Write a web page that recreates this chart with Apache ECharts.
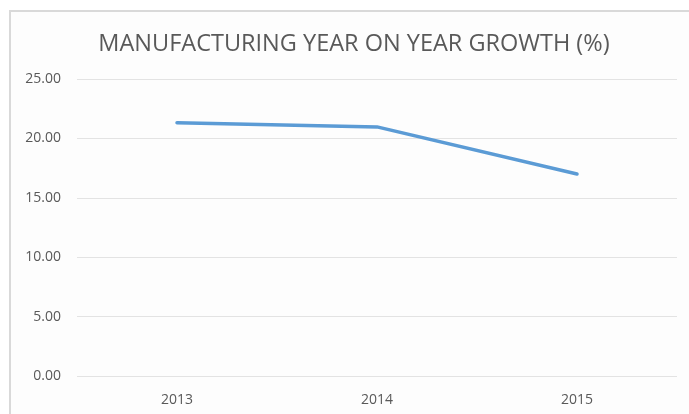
<!DOCTYPE html>
<html>
<head>
<meta charset="utf-8">
<script src="https://cdn.jsdelivr.net/npm/echarts@6/dist/echarts.min.js"></script>
<style>
  html, body { margin: 0; padding: 0; background: #ffffff; }
  #frame { position: absolute; left: 9px; top: 10px; width: 700px; height: 420px;
           border-left: 2px solid #d9d9d9; border-top: 2px solid #d9d9d9; background: #fdfdfd; }
  #lineChart { position: absolute; left: 0; top: 0; width: 689px; height: 414px; }
</style>
</head>
<body>
<div id="frame"></div>
<div id="lineChart"></div>
<script>
// chart data
const years = ['2013', '2014', '2015']
const growth = [21.31, 20.97, 17.0]
const yTicks = { min: 0, max: 25, interval: 5 }

const lineChart = echarts.init(document.getElementById('lineChart'))
lineChart.setOption({
  backgroundColor: 'transparent',
  title: {
    text: 'MANUFACTURING YEAR ON YEAR GROWTH (%)',
    left: 349,
    textAlign: 'center',
    top: 27,
    textStyle: { color: '#595959', fontSize: 23.5, fontWeight: 'normal', fontFamily: 'Open Sans' }
  },
  grid: { top: 79, left: 77, right: 12, bottom: 38 },
  xAxis: {
    type: 'category',
    data: years,
    boundaryGap: true,
    axisLine: { show: false },
    axisTick: { show: false },
    axisLabel: { color: '#595959', fontSize: 14, margin: 17, fontFamily: 'Open Sans' }
  },
  yAxis: {
    type: 'value',
    min: yTicks.min,
    max: yTicks.max,
    interval: yTicks.interval,
    axisLabel: {
      color: '#595959', fontSize: 14, margin: 16, fontFamily: 'Open Sans',
      formatter: v => v.toFixed(2)
    },
    splitLine: { lineStyle: { color: '#e3e3e3', width: 1 } }
  },
  series: [
    {
      type: 'line',
      data: growth,
      symbol: 'none',
      lineStyle: { color: '#5b9bd5', width: 3.5, cap: 'round', join: 'round' }
    }
  ]
})
</script>
</body>
</html>
